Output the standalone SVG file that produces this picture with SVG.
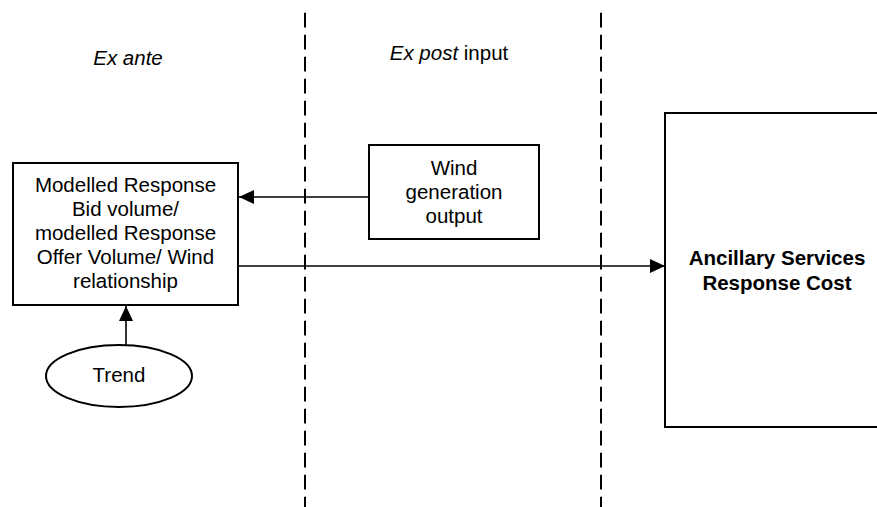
<svg xmlns="http://www.w3.org/2000/svg" width="877" height="507" viewBox="0 0 877 507">
<style>
text{font-family:"Liberation Sans",Arial,sans-serif;font-size:20.5px;fill:#000;text-anchor:middle}
.it{font-style:italic}
.b{font-weight:bold}
.box{fill:#fff;stroke:#000;stroke-width:2}
.conn{stroke:#000;stroke-width:1.6;fill:none}
.dash{stroke:#000;stroke-width:2;stroke-dasharray:14.7 7.3;fill:none}
</style>
<defs>
<marker id="ah" viewBox="0 0 15 14" refX="15" refY="7" markerWidth="15" markerHeight="14" markerUnits="userSpaceOnUse" orient="auto">
<path d="M0,0 L15,7 L0,14 Z" fill="#000"/>
</marker>
</defs>
<rect width="877" height="507" fill="#fff"/>
<g id="dividers">
<line class="dash" x1="305" y1="12.7" x2="305" y2="507"/>
<line class="dash" x1="601" y1="12.7" x2="601" y2="507"/>
</g>
<g id="headings">
<text class="it" x="128" y="65">Ex ante</text>
<text x="449" y="60"><tspan class="it">Ex post</tspan> input</text>
</g>
<g id="connectors">
<line class="conn" x1="369" y1="197" x2="239" y2="197" marker-end="url(#ah)"/>
<line class="conn" x1="239" y1="266" x2="665" y2="266" marker-end="url(#ah)"/>
<line class="conn" x1="126" y1="345" x2="126" y2="306" marker-end="url(#ah)"/>
</g>
<g id="model">
<rect class="box" x="13" y="163" width="225" height="142"/>
<text x="125.5" y="192">Modelled Response</text>
<text x="125.5" y="216">Bid volume/</text>
<text x="125.5" y="240">modelled Response</text>
<text x="125.5" y="264">Offer Volume/ Wind</text>
<text x="125.5" y="288">relationship</text>
</g>
<g id="wind">
<rect class="box" x="369" y="145" width="170" height="94"/>
<text x="454" y="175">Wind</text>
<text x="454" y="199">generation</text>
<text x="454" y="223">output</text>
</g>
<g id="trend">
<ellipse class="box" cx="119" cy="376" rx="73" ry="31"/>
<text x="119" y="382">Trend</text>
</g>
<g id="cost">
<rect class="box" x="665" y="113" width="230" height="314"/>
<text class="b" x="777" y="265">Ancillary Services</text>
<text class="b" x="777" y="290">Response Cost</text>
</g>
</svg>
